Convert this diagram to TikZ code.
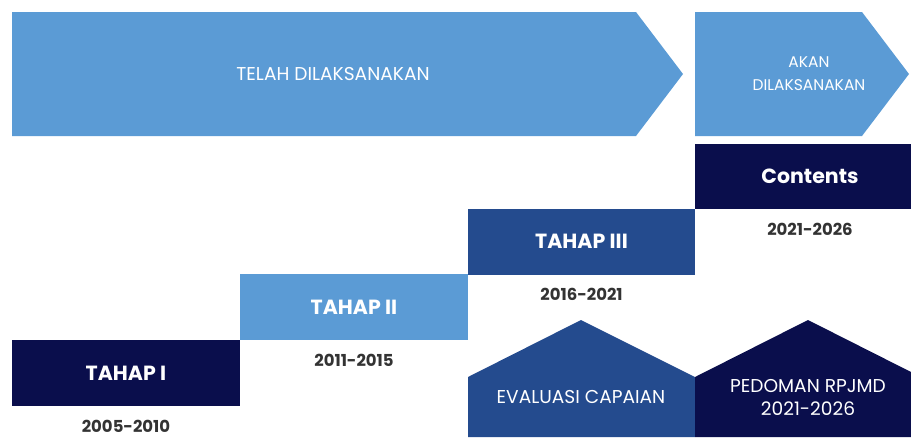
\documentclass[tikz,border=0pt]{standalone}
\usepackage{fontspec}
\setmainfont{Poppins}
\usetikzlibrary{positioning}

\definecolor{lightblue}{HTML}{5B9BD5}
\definecolor{midblue}{HTML}{244B8E}
\definecolor{navy}{HTML}{0A0E4C}
\definecolor{yeargray}{HTML}{333333}

\tikzset{
    stagebox/.style={minimum width=228pt, minimum height=66pt, inner sep=0pt, text=white, font=\fontsize{20.5}{24}\selectfont\bfseries},
    yearlabel/.style={text=yeargray, font=\fontsize{16.5}{20}\selectfont\bfseries},
    thinlabel/.style={text=white, font=\fontsize{18.6}{23}\selectfont, align=center}
}

\begin{document}
\begin{tikzpicture}[x=1pt, y=-1pt]
    \useasboundingbox (0,0) rectangle (911,437);

    % arrows on top
    \fill[lightblue] (12,12) -- (636,12) -- (683,74) -- (636,136) -- (12,136) -- cycle;
    \node[thinlabel] (done) at (333,74) {TELAH DILAKSANAKAN};
    \fill[lightblue] (695,12) -- (862,12) -- (909,74) -- (862,136) -- (695,136) -- cycle;
    \node[thinlabel, font=\fontsize{15.5}{23}\selectfont] (todo) at (809,74) {AKAN\\DILAKSANAKAN};

    % stages
    \node[stagebox, fill=navy] (t1) at (126,373) {TAHAP I};
    \node[stagebox, fill=lightblue] (t2) at (354,307) {TAHAP II};
    \node[stagebox, fill=midblue, minimum width=227pt] (t3) at (581.5,241.5) {TAHAP III};
    \node[stagebox, fill=navy, minimum width=230pt, minimum height=65pt] (t4) at (810,176.5) {Contents};

    \node[yearlabel, below=10pt of t1] (y1) {2005-2010};
    \node[yearlabel, below=10pt of t2] (y2) {2011-2015};
    \node[yearlabel, below=10pt of t3] (y3) {2016-2021};
    \node[yearlabel, below=10pt of t4] (y4) {2021-2026};

    % houses
    \fill[midblue] (468,437) -- (468,377) -- (581,320) -- (695,377) -- (695,437) -- cycle;
    \node[thinlabel] (eval) at (581,397) {EVALUASI CAPAIAN};
    \fill[navy] (695,437) -- (695,377) -- (808,320) -- (911,372) -- (911,437) -- cycle;
    \node[thinlabel] (guide) at (808,397) {PEDOMAN RPJMD\\2021-2026};
\end{tikzpicture}
\end{document}
